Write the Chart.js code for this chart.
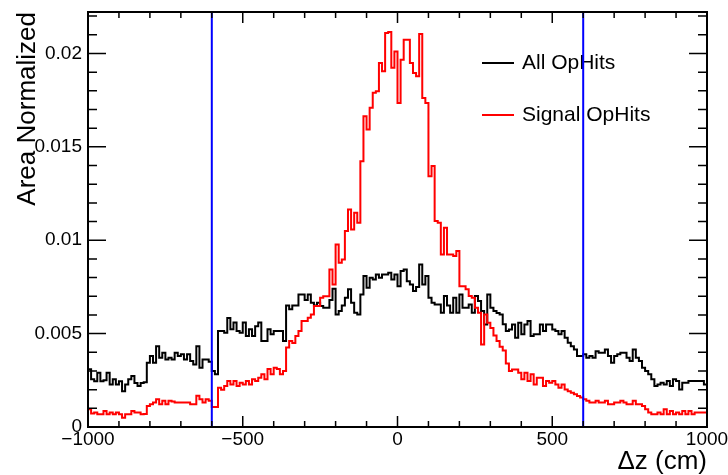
<!DOCTYPE html>
<html>
<head>
<meta charset="utf-8">
<script src="https://cdn.jsdelivr.net/npm/chart.js@4.4.1/dist/chart.umd.min.js"></script>
<style>
  html, body { margin: 0; padding: 0; background: #fff; }
  #wrap { width: 728px; height: 475px; }
</style>
</head>
<body>
<div id="wrap"><canvas id="dzChart" width="728" height="475"></canvas></div>
<script>
// histogram binning: 10 cm bins from -1000 to 1000
const xMin = -1000;
const xMax = 1000;
const binWidth = 10;

// bin contents, in units of 1e-3
const allOpHits = [
  3.09, 2.55, 2.45, 2.90, 2.45, 2.50, 2.90, 2.27, 2.55, 2.27,
  2.45, 1.92, 2.27, 2.55, 2.73, 2.36, 2.19, 2.36, 2.40, 3.44,
  3.80, 3.44, 4.33, 3.71, 3.98, 3.62, 3.71, 3.62, 3.98, 3.80,
  3.89, 3.62, 3.89, 3.53, 3.35, 4.33, 3.17, 3.62, 3.62, 3.50,
  3.00, 2.82, 5.14, 5.14, 5.05, 5.84, 5.24, 5.60, 5.14, 5.05,
  5.60, 4.87, 5.24, 4.87, 5.40, 5.60, 4.60, 4.60, 5.24, 4.96,
  5.14, 5.14, 5.14, 4.60, 6.50, 6.30, 6.50, 6.50, 7.10, 7.10,
  6.80, 7.10, 6.65, 6.50, 6.65, 6.48, 6.39, 6.39, 6.80, 7.40,
  6.03, 6.21, 6.50, 6.92, 7.37, 6.65, 6.12, 6.03, 7.10, 8.08,
  7.45, 7.99, 7.90, 8.17, 7.99, 8.17, 8.17, 8.26, 7.90, 8.17,
  7.54, 8.35, 8.43, 7.81, 7.63, 7.28, 7.50, 8.70, 7.63, 8.08,
  6.92, 6.65, 6.56, 6.56, 6.12, 7.01, 6.50, 6.12, 6.92, 6.12,
  7.10, 6.38, 6.38, 6.56, 6.12, 7.01, 6.74, 6.21, 5.49, 7.10,
  6.38, 6.21, 6.10, 6.03, 5.50, 5.14, 5.22, 5.49, 4.78, 5.58,
  4.96, 5.49, 5.67, 4.87, 4.96, 4.96, 5.49, 5.14, 5.49, 5.49,
  5.22, 5.14, 4.96, 5.14, 4.78, 4.51, 4.33, 4.15, 3.80, 3.80,
  3.89, 3.71, 3.80, 3.71, 4.06, 3.98, 3.98, 4.15, 3.80, 3.44,
  3.80, 3.89, 3.98, 3.98, 3.71, 3.53, 4.15, 3.71, 3.53, 3.17,
  3.00, 2.82, 2.55, 2.19, 2.28, 2.37, 2.28, 2.46, 2.19, 2.55,
  2.46, 2.01, 2.37, 2.37, 2.46, 2.46, 2.46, 2.46, 2.46, 2.28
];

const signalOpHits = [
  0.95, 0.72, 0.77, 0.68, 0.68, 0.86, 0.68, 0.77, 0.68, 0.77,
  0.68, 0.50, 0.68, 0.68, 0.86, 0.77, 0.77, 0.68, 0.70, 1.13,
  1.22, 1.31, 1.49, 1.22, 1.40, 1.22, 1.40, 1.36, 1.31, 1.31,
  1.31, 1.31, 1.31, 1.22, 1.22, 1.67, 1.49, 1.31, 1.49, 1.40,
  1.07, 1.07, 2.10, 2.00, 2.20, 2.46, 2.28, 2.46, 2.20, 2.37,
  2.28, 2.46, 2.28, 2.55, 2.46, 2.64, 2.82, 2.55, 3.10, 2.82,
  3.17, 3.10, 2.82, 3.00, 4.25, 4.60, 4.50, 4.87, 5.14, 5.67,
  5.67, 5.85, 6.03, 6.48, 6.48, 6.92, 7.00, 7.00, 8.43, 7.63,
  9.77, 8.79, 8.97, 10.49, 11.64, 10.58, 11.47, 10.93, 14.23, 16.64,
  15.93, 17.09, 17.89, 17.98, 19.49, 19.05, 21.10, 21.15, 19.23, 20.10,
  17.35, 19.67, 20.74, 20.74, 19.49, 18.96, 18.78, 21.04, 17.62, 17.35,
  13.43, 13.97, 11.03, 10.94, 9.24, 10.67, 9.24, 9.24, 9.15, 9.42,
  7.54, 7.54, 7.37, 7.01, 6.92, 6.39, 6.12, 4.42, 6.03, 5.58,
  5.30, 4.90, 4.60, 4.30, 4.10, 3.40, 3.00, 3.08, 3.08, 2.90,
  2.55, 2.90, 2.46, 2.82, 2.28, 2.64, 2.64, 2.19, 2.46, 2.37,
  2.46, 2.28, 2.10, 2.28, 2.01, 1.92, 1.83, 1.75, 1.66, 1.58,
  1.49, 1.40, 1.31, 1.31, 1.40, 1.31, 1.31, 1.40, 1.22, 1.22,
  1.31, 1.31, 1.40, 1.31, 1.22, 1.22, 1.40, 1.22, 1.22, 1.13,
  0.95, 0.77, 0.68, 0.68, 0.77, 0.68, 0.95, 0.68, 0.86, 0.68,
  0.77, 0.68, 0.86, 0.68, 0.86, 0.68, 0.77, 0.77, 0.77, 0.77
];

const seriesNames = ["All OpHits", "Signal OpHits"];
const seriesColors = ["#000000", "#ff0000"];

// fiducial cut (blue lines)
const cutPositions = [-600, 600];

// axes
const xTickValues = [-1000, -500, 0, 500, 1000];
const xTickLabels = ["\u22121000", "\u2212500", "0", "500", "1000"];
const xMinorStep = 100;
const yTickValues = [0, 0.005, 0.01, 0.015, 0.02];
const yTickLabels = ["0", "0.005", "0.01", "0.015", "0.02"];
const yMinorStep = 0.001;
const yMax = 0.02222;

const fontFamily = "'Liberation Sans', Arial, Helvetica, sans-serif";

// turn bin contents into left-edge points for a stepped line
function toSteps(values) {
    const pts = values.map((v, i) => ({ x: xMin + i * binWidth, y: v / 1000 }));
    pts.push({ x: xMax, y: values[values.length - 1] / 1000 });
    return pts;
}

// ROOT-like frame, inward ticks on all four sides and the legend
const rootFrame = {
    id: "rootFrame",
    beforeDatasetsDraw(chart) {
        const c = chart.ctx;
        c.save();
        c.font = "21px " + fontFamily;
        c.textBaseline = "middle";
        c.textAlign = "left";
        const rows = [63, 115];
        seriesNames.forEach((name, i) => {
            c.strokeStyle = seriesColors[i];
            c.lineWidth = 2;
            c.beginPath();
            c.moveTo(482, rows[i]);
            c.lineTo(514, rows[i]);
            c.stroke();
            c.fillStyle = "#000";
            c.fillText(name, 522, rows[i]);
        });
        c.restore();
    },
    afterDraw(chart) {
        const c = chart.ctx;
        const { left, right, top, bottom } = chart.chartArea;
        const xs = chart.scales.x;
        const ys = chart.scales.y;
        c.save();
        c.strokeStyle = "#000";
        c.lineWidth = 1.5;
        c.beginPath();
        // x ticks, bottom and top
        for (let v = xMin; v <= xMax + 0.001; v += xMinorStep) {
            const px = xs.getPixelForValue(v);
            const len = xTickValues.includes(Math.round(v)) ? 11 : 6;
            c.moveTo(px, bottom); c.lineTo(px, bottom - len);
            c.moveTo(px, top); c.lineTo(px, top + len);
        }
        // y ticks, left and right
        for (let k = 0; k * yMinorStep <= yMax; k++) {
            const v = k * yMinorStep;
            const py = ys.getPixelForValue(v);
            const len = k % 5 === 0 ? 18 : 9;
            c.moveTo(left, py); c.lineTo(left + len, py);
            c.moveTo(right, py); c.lineTo(right - len, py);
        }
        c.stroke();
        c.lineWidth = 2;
        c.strokeRect(left, top, right - left, bottom - top);
        c.restore();
    }
};

const histDatasets = [allOpHits, signalOpHits].map((vals, i) => ({
    label: seriesNames[i],
    data: toSteps(vals),
    borderColor: seriesColors[i],
    borderWidth: 2,
    stepped: true,
    pointRadius: 0,
    fill: false,
    order: 2 - i
}));

const cutDatasets = cutPositions.map(pos => ({
    label: "cut " + pos,
    data: [{ x: pos, y: 0 }, { x: pos, y: yMax }],
    borderColor: "#0000ff",
    borderWidth: 2,
    pointRadius: 0,
    fill: false,
    order: 0
}));

const ctx = document.getElementById("dzChart").getContext("2d");
new Chart(ctx, {
    type: "line",
    data: { datasets: histDatasets.concat(cutDatasets) },
    options: {
        responsive: false,
        animation: false,
        devicePixelRatio: 1,
        layout: { padding: { top: 12, left: 0, right: 0, bottom: 0 } },
        plugins: { legend: { display: false }, tooltip: { enabled: false } },
        scales: {
            x: {
                type: "linear",
                min: xMin,
                max: xMax,
                grid: { display: false, drawTicks: false },
                border: { display: false },
                afterBuildTicks: s => { s.ticks = xTickValues.map(v => ({ value: v })); },
                ticks: {
                    autoSkip: false,
                    maxRotation: 0,
                    padding: 1,
                    color: "#000",
                    font: { family: fontFamily, size: 19 },
                    callback: (v, i) => xTickLabels[i]
                },
                title: {
                    display: true,
                    text: "\u0394z (cm)",
                    align: "end",
                    color: "#000",
                    font: { family: fontFamily, size: 26, lineHeight: 1.0 },
                    padding: { top: 0, bottom: 0 }
                },
                afterFit: s => { s.height = 48; s.paddingLeft = 0; s.paddingRight = 21; }
            },
            y: {
                type: "linear",
                min: 0,
                max: yMax,
                grid: { display: false, drawTicks: false },
                border: { display: false },
                afterBuildTicks: s => { s.ticks = yTickValues.map(v => ({ value: v })); },
                ticks: {
                    padding: 6,
                    color: "#000",
                    font: { family: fontFamily, size: 19 },
                    callback: (v, i) => yTickLabels[i]
                },
                title: {
                    display: true,
                    text: "Area Normalized",
                    align: "end",
                    color: "#000",
                    font: { family: fontFamily, size: 26, lineHeight: 1.2 },
                    padding: { top: 12, bottom: 0 }
                },
                afterFit: s => { s.width = 88; s.paddingTop = 0; s.paddingBottom = 0; }
            }
        }
    },
    plugins: [rootFrame]
});
</script>
</body>
</html>
